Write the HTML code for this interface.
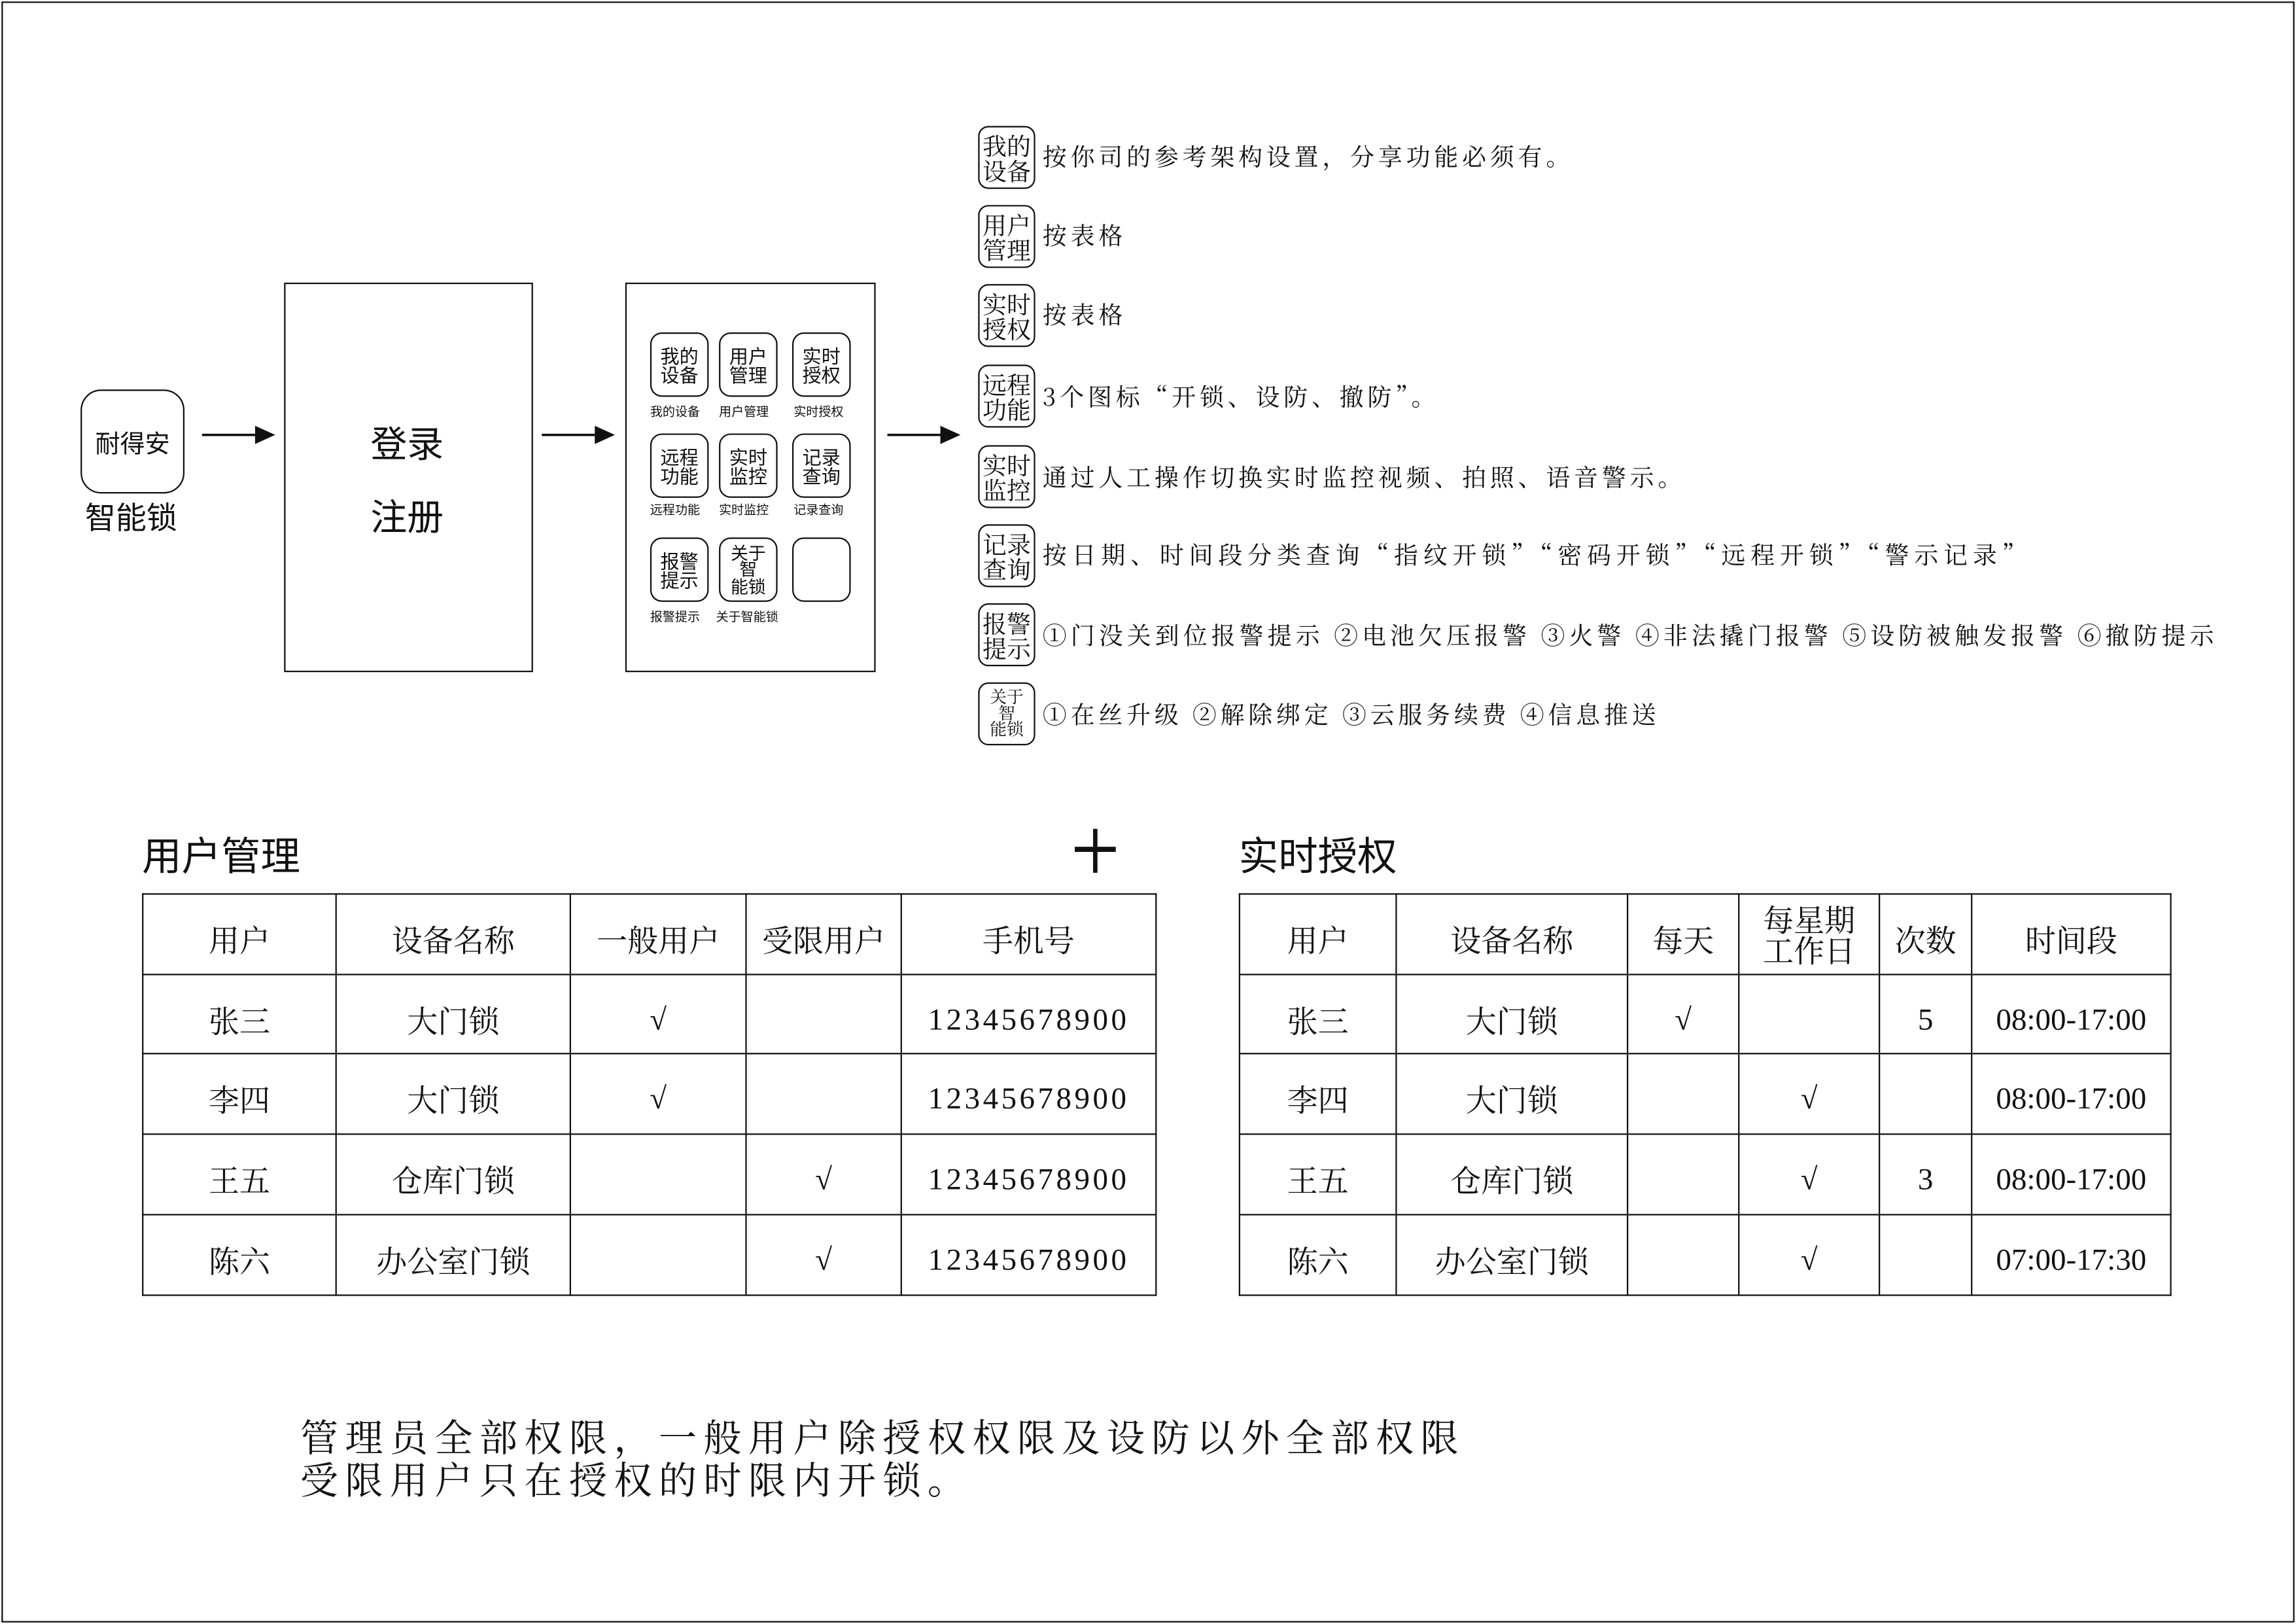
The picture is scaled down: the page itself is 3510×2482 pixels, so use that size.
<!DOCTYPE html>
<html><head><meta charset="utf-8"><style>
html,body{margin:0;padding:0;background:#fff;}
body{width:3510px;height:2482px;overflow:hidden;position:relative;}
#c{position:absolute;left:0;top:0;width:1568px;height:1109px;transform:scale(2.2385,2.238);transform-origin:0 0;font-family:"Liberation Serif","Noto Serif CJK SC","Noto Sans CJK SC",serif;color:#111;}
.a{position:absolute;}
.box{position:absolute;border:1.3px solid #111;box-sizing:border-box;}
.rb{position:absolute;border:1.3px solid #111;box-sizing:border-box;border-radius:8px;display:flex;align-items:center;justify-content:center;text-align:center;line-height:1.0;}
.t{position:absolute;white-space:nowrap;}
.ic{font-size:13px;font-family:"Noto Sans CJK SC",sans-serif;}
.lb{font-size:8.5px;font-family:"Noto Sans CJK SC",sans-serif;position:absolute;white-space:nowrap;}
.ri{font-size:16.5px;font-family:"Noto Serif CJK SC",serif;line-height:0.98;border-radius:7px;}
.rt{position:absolute;font-size:16.5px;white-space:nowrap;letter-spacing:2.6px;font-family:"Noto Serif CJK SC",serif;line-height:20px;}
table{position:absolute;border-collapse:collapse;font-size:21px;table-layout:fixed;}
td{border:1.3px solid #111;text-align:center;padding:8px 0 0 0;}
tr{height:54px;}
tr.h{height:55px;}
</style></head><body><div id="c">
<div class="box" style="left:1px;top:1px;width:1566px;height:1107px;border-width:1px"></div>
<div class="rb" style="left:55px;top:266px;width:71px;height:71px;border-radius:14px;font-size:17px;font-family:'Noto Sans CJK SC',sans-serif">耐得安</div>
<div class="t" style="left:58px;top:338px;font-size:21px;font-family:'Noto Sans CJK SC',sans-serif">智能锁</div>
<svg class="a" style="left:0;top:0" width="1568" height="1109">
<g stroke="#111" stroke-width="1.6" fill="#111">
<line x1="138" y1="297" x2="176" y2="297"/><polygon points="186,297 175,292 175,302"/>
<line x1="370" y1="297" x2="408" y2="297"/><polygon points="418,297 407,292 407,302"/>
<line x1="606" y1="297" x2="644" y2="297"/><polygon points="654,297 643,292 643,302"/>
<line x1="748" y1="566" x2="748" y2="596" stroke-width="3"/><line x1="734" y1="580" x2="762" y2="580" stroke-width="3.5"/>
</g></svg>
<div class="box" style="left:194px;top:193px;width:170px;height:266px"></div>
<div class="t" style="left:253px;top:284px;font-size:25px;font-family:'Noto Sans CJK SC',sans-serif">登录</div>
<div class="t" style="left:253px;top:334px;font-size:25px;font-family:'Noto Sans CJK SC',sans-serif">注册</div>
<div class="box" style="left:427px;top:193px;width:171px;height:266px"></div>
<div class="rb ic" style="left:444px;top:227px;width:40px;height:44px">我的<br>设备</div>
<div class="rb ic" style="left:491px;top:227px;width:40px;height:44px">用户<br>管理</div>
<div class="rb ic" style="left:541px;top:227px;width:40px;height:44px">实时<br>授权</div>
<div class="rb ic" style="left:444px;top:296px;width:40px;height:44px">远程<br>功能</div>
<div class="rb ic" style="left:491px;top:296px;width:40px;height:44px">实时<br>监控</div>
<div class="rb ic" style="left:541px;top:296px;width:40px;height:44px">记录<br>查询</div>
<div class="rb ic" style="left:444px;top:367px;width:40px;height:44px">报警<br>提示</div>
<div class="rb ic" style="left:491px;top:367px;width:40px;height:44px;font-size:12px;line-height:0.95">关于<br>智<br>能锁</div>
<div class="rb" style="left:541px;top:367px;width:40px;height:44px"></div>
<div class="lb" style="left:444px;top:275px">我的设备</div>
<div class="lb" style="left:491px;top:275px">用户管理</div>
<div class="lb" style="left:542px;top:275px">实时授权</div>
<div class="lb" style="left:444px;top:342px">远程功能</div>
<div class="lb" style="left:491px;top:342px">实时监控</div>
<div class="lb" style="left:542px;top:342px">记录查询</div>
<div class="lb" style="left:444px;top:415px">报警提示</div>
<div class="lb" style="left:489px;top:415px">关于智能锁</div>

<div class="rb ri" style="left:668px;top:86px;width:39px;height:43px">我的<br>设备</div>
<div class="rt" style="left:712px;top:96px">按你司的参考架构设置，分享功能必须有。</div>
<div class="rb ri" style="left:668px;top:140px;width:39px;height:43px">用户<br>管理</div>
<div class="rt" style="left:712px;top:150px">按表格</div>
<div class="rb ri" style="left:668px;top:194px;width:39px;height:43px">实时<br>授权</div>
<div class="rt" style="left:712px;top:204px">按表格</div>
<div class="rb ri" style="left:668px;top:249px;width:39px;height:43px">远程<br>功能</div>
<div class="rt" style="left:712px;top:260px">3个图标“开锁、设防、撤防”。</div>
<div class="rb ri" style="left:668px;top:304px;width:39px;height:43px">实时<br>监控</div>
<div class="rt" style="left:712px;top:315px">通过人工操作切换实时监控视频、拍照、语音警示。</div>
<div class="rb ri" style="left:668px;top:358px;width:39px;height:43px">记录<br>查询</div>
<div class="rt" style="left:712px;top:368px;letter-spacing:3.5px">按日期、时间段分类查询“指纹开锁”“密码开锁”“远程开锁”“警示记录”</div>
<div class="rb ri" style="left:668px;top:412px;width:39px;height:43px">报警<br>提示</div>
<div class="rt" style="left:712px;top:423px;letter-spacing:2.7px">①门没关到位报警提示 ②电池欠压报警 ③火警 ④非法撬门报警 ⑤设防被触发报警 ⑥撤防提示</div>
<div class="rb ri" style="left:668px;top:466px;width:39px;height:43px;font-size:11.5px;line-height:0.95">关于<br>智<br>能锁</div>
<div class="rt" style="left:712px;top:477px">①在丝升级 ②解除绑定 ③云服务续费 ④信息推送</div>

<div class="t" style="left:97px;top:563px;font-size:27px;font-family:'Noto Sans CJK SC',sans-serif">用户管理</div>
<div class="t" style="left:846px;top:563px;font-size:27px;font-family:'Noto Sans CJK SC',sans-serif">实时授权</div>

<table style="left:97px;top:610px;width:692px;height:275px">
<colgroup><col style="width:132px"><col style="width:160px"><col style="width:120px"><col style="width:106px"><col style="width:174px"></colgroup>
<tr class="h"><td>用户</td><td>设备名称</td><td>一般用户</td><td>受限用户</td><td>手机号</td></tr>
<tr><td>张三</td><td>大门锁</td><td>√</td><td></td><td style="letter-spacing:2px">12345678900</td></tr>
<tr><td>李四</td><td>大门锁</td><td>√</td><td></td><td style="letter-spacing:2px">12345678900</td></tr>
<tr class="h"><td>王五</td><td>仓库门锁</td><td></td><td>√</td><td style="letter-spacing:2px">12345678900</td></tr>
<tr class="h"><td>陈六</td><td>办公室门锁</td><td></td><td>√</td><td style="letter-spacing:2px">12345678900</td></tr>
</table>
<table style="left:846px;top:610px;width:636px;height:275px">
<colgroup><col style="width:107px"><col style="width:158px"><col style="width:76px"><col style="width:96px"><col style="width:63px"><col style="width:136px"></colgroup>
<tr class="h"><td>用户</td><td>设备名称</td><td>每天</td><td style="line-height:1;padding-top:4px">每星期<br>工作日</td><td>次数</td><td>时间段</td></tr>
<tr><td>张三</td><td>大门锁</td><td>√</td><td></td><td>5</td><td>08:00-17:00</td></tr>
<tr><td>李四</td><td>大门锁</td><td></td><td>√</td><td></td><td>08:00-17:00</td></tr>
<tr class="h"><td>王五</td><td>仓库门锁</td><td></td><td>√</td><td>3</td><td>08:00-17:00</td></tr>
<tr class="h"><td>陈六</td><td>办公室门锁</td><td></td><td>√</td><td></td><td>07:00-17:30</td></tr>
</table>
<div class="t" style="left:205px;top:968px;font-size:26px;line-height:29px;letter-spacing:4.6px">管理员全部权限，一般用户除授权权限及设防以外全部权限<br>受限用户只在授权的时限内开锁。</div>
</div></body></html>
